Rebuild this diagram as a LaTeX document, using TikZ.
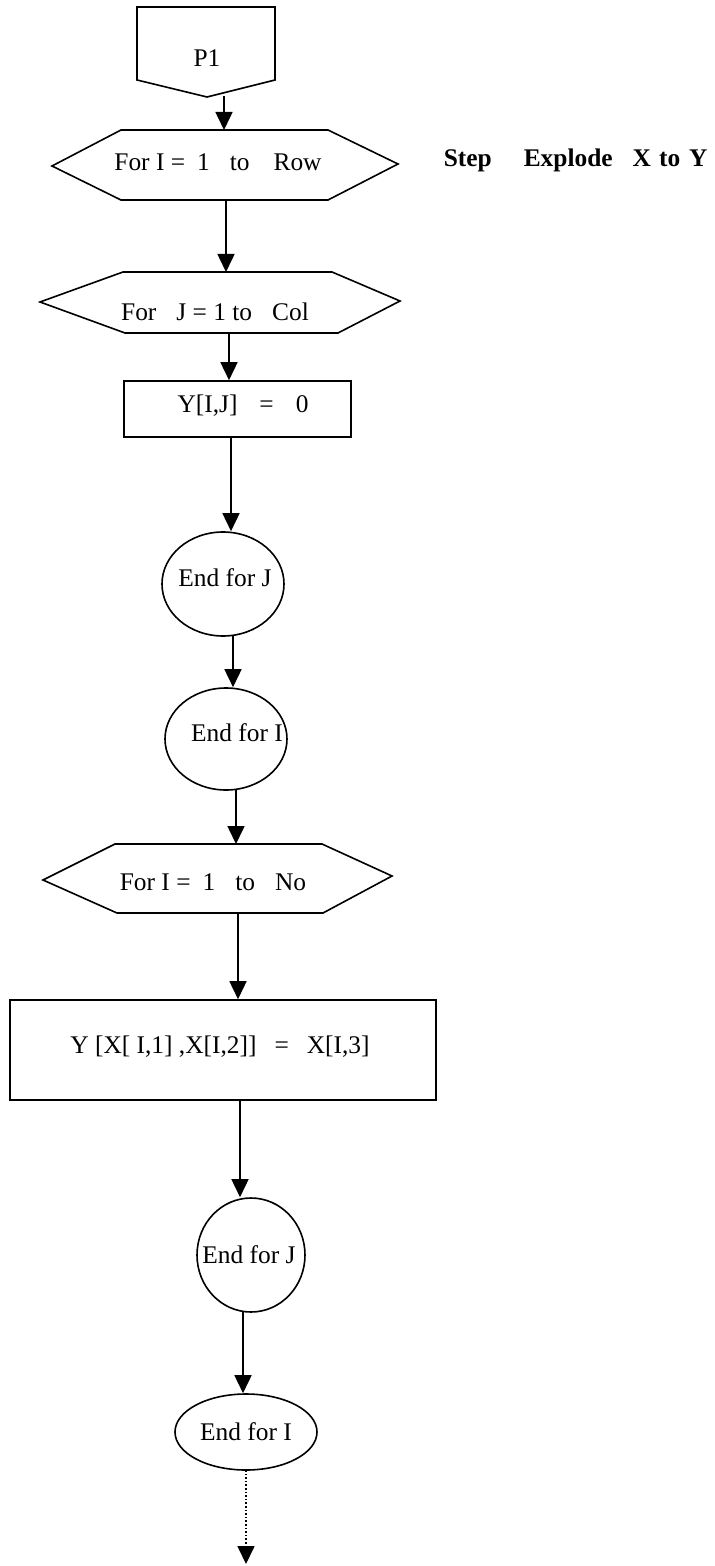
\documentclass[tikz,border=0pt]{standalone}
\usepackage{fontspec}
\setmainfont{Liberation Serif}
\usetikzlibrary{arrows.meta,shapes.geometric}
\begin{document}
\begin{tikzpicture}[x=0.5pt,y=-0.5pt,
  line width=0.8pt,
  txt/.style={font=\fontsize{12.7}{15}\selectfont, inner sep=0pt},
  arr/.style={-{Triangle[width=8.5pt,length=9pt]}, line width=0.8pt},
  ell/.style={draw, ellipse, inner sep=0pt, line width=0.8pt},
  box/.style={draw, rectangle, inner sep=0pt, line width=0.8pt},
  hex/.style={draw, line width=0.8pt, line join=miter}]
\useasboundingbox (0,0) rectangle (715,1566);

% P1 off-page connector
\draw[hex] (137,7) -- (275,7) -- (275,80) -- (207,97) -- (137,80) -- cycle;
\node[txt] (p1) at (207,58) {P1};
\coordinate (p1tail) at (224,96);

% Hexagon 1
\draw[hex] (52,166) -- (121,130) -- (328,130) -- (398,164) -- (328,200) -- (121,200) -- cycle;
\coordinate (h1t) at (225,130);
\coordinate (h1b) at (226,200);
\node[txt] (h1) at (218,162) {For I =\hspace{6pt}1\hspace{10pt}to\hspace{12pt}Row};

% Title
\node[txt, anchor=west] (title) at (443,160) {\textbf{Step}\hspace{16pt}\textbf{Explode}\hspace{10pt}\textbf{X}\hspace{4pt}\textbf{to\hspace{4.5pt}Y}};

% Hexagon 2
\draw[hex] (40,302) -- (123,272) -- (332,272) -- (400,301) -- (338,333) -- (125,333) -- cycle;
\coordinate (h2t) at (226,272);
\coordinate (h2b) at (229,333);
\node[txt] (h2) at (215,312) {For\hspace{10pt}J = 1 to\hspace{10pt}Col};

% Box 1
\node[box, minimum width=113.5pt, minimum height=28pt] (b1) at (237.5,409) {};
\node[txt] (b1t) at (243,406) {Y[I,J]\hspace{11pt}=\hspace{11pt}0};
\coordinate (b1b) at (231,437);

% End for J (1)
\node[ell, minimum width=61pt, minimum height=52pt] (ej1) at (223,584) {};
\node[txt] (ej1t) at (225,578) {End for J};
\coordinate (ej1b) at (233,636);

% End for I (1)
\node[ell, minimum width=61pt, minimum height=51pt] (ei1) at (226,739) {};
\node[txt] (ei1t) at (237,733) {End for I};
\coordinate (ei1b) at (236,790);

% Hexagon 3
\draw[hex] (43,880) -- (115,844) -- (322,844) -- (392,876) -- (323,913) -- (117,913) -- cycle;
\coordinate (h3t) at (236,844);
\coordinate (h3b) at (238,913);
\node[txt] (h3) at (213,882) {For I =\hspace{6pt}1\hspace{10pt}to\hspace{10pt}No};

% Box 2
\node[box, minimum width=213pt, minimum height=50pt] (b2) at (223,1050) {};
\node[txt] (b2t) at (220,1047) {Y [X[ I,1] ,X[I,2]]\hspace{9pt}=\hspace{9pt}X[I,3]};
\coordinate (b2b) at (240,1100);

% End for J (2)
\node[ell, minimum width=54pt, minimum height=57pt] (ej2) at (251,1255) {};
\node[txt] (ej2t) at (249,1255) {End for J};
\coordinate (ej2b) at (243,1312);

% End for I (2)
\node[ell, minimum width=71pt, minimum height=38pt] (ei2) at (246,1432) {};
\node[txt] (ei2t) at (246,1432) {End for I};
\coordinate (ei2b) at (246,1470);
\coordinate (endpt) at (246,1564);

% Connectors
\draw[arr] (p1tail) -- (p1tail |- h1t);
\draw[arr] (h1b) -- (h1b |- h2t);
\draw[arr] (h2b) -- (h2b |- b1.north);
\draw[arr] (b1b) -- (b1b |- ej1.north);
\draw[arr] (ej1b) -- (ej1b |- ei1.north);
\draw[arr] (ei1b) -- (ei1b |- h3t);
\draw[arr] (h3b) -- (h3b |- b2.north);
\draw[arr] (b2b) -- (b2b |- ej2.north);
\draw[arr] (ej2b) -- (ej2b |- ei2.north);
\draw[arr, densely dotted] (ei2b) -- (endpt);
\end{tikzpicture}
\end{document}
